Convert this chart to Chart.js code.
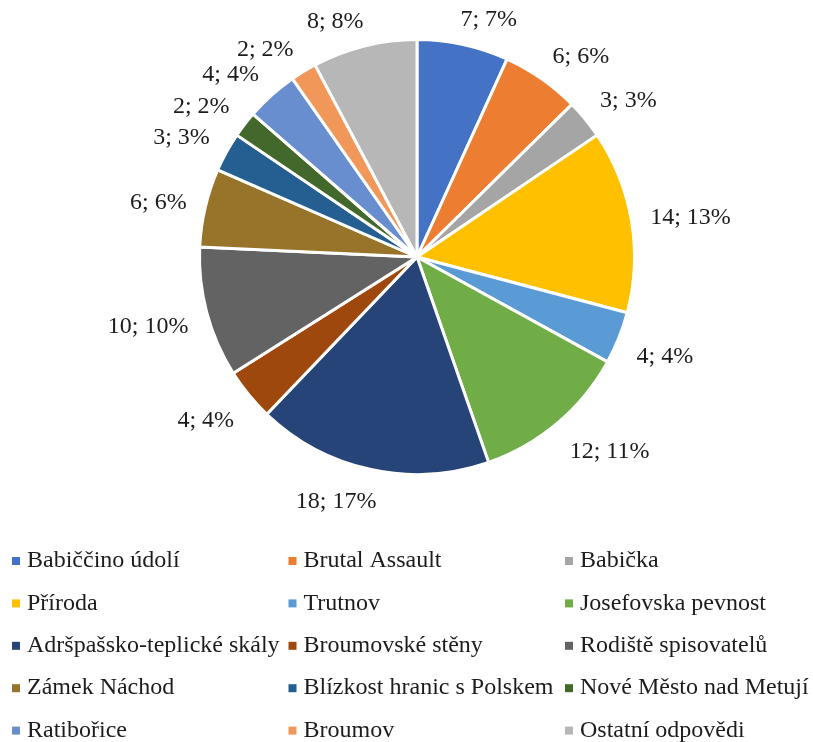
<!DOCTYPE html>
<html>
<head>
<meta charset="utf-8">
<script src="https://cdn.jsdelivr.net/npm/chart.js@4"></script>
<style>
  html, body { margin: 0; padding: 0; background: #ffffff; }
  #wrap { width: 813px; height: 742px; position: relative; }
</style>
</head>
<body>
<div id="wrap"><canvas id="chart" width="813" height="742"></canvas></div>
<script>
// Reasons given for visiting the region (answer counts and their shares)
const categories = [
  'Babiččino údolí', 'Brutal Assault', 'Babička',
  'Příroda', 'Trutnov', 'Josefovska pevnost',
  'Adršpašsko-teplické skály', 'Broumovské stěny', 'Rodiště spisovatelů',
  'Zámek Náchod', 'Blízkost hranic s Polskem', 'Nové Město nad Metují',
  'Ratibořice', 'Broumov', 'Ostatní odpovědi'
];
const counts = [7, 6, 3, 14, 4, 12, 18, 4, 10, 6, 3, 2, 4, 2, 8];
const shares = ['7%', '6%', '3%', '13%', '4%', '11%', '17%', '4%', '10%', '6%', '3%', '2%', '4%', '2%', '8%'];
const colors = [
  '#4472C4', '#ED7D31', '#A5A5A5',
  '#FFC000', '#5B9BD5', '#70AD47',
  '#264478', '#9E480E', '#636363',
  '#98742A', '#255E91', '#43682B',
  '#698ED0', '#F1975A', '#B7B7B7'
];

const SERIF = '"Liberation Serif", "Times New Roman", serif';
const TEXT_COLOR = '#1c1c1c';

// Value labels just outside each slice: "count; share".
// An anchor point sits a little beyond the rim on the slice's mid-angle;
// the label box is pushed away from it, fully sideways and partly up/down.
const outsideLabels = {
  id: 'outsideLabels',
  afterDatasetsDraw(chart) {
    const ctx = chart.ctx;
    const meta = chart.getDatasetMeta(0);
    ctx.save();
    ctx.font = '24px ' + SERIF;
    ctx.fillStyle = TEXT_COLOR;
    ctx.textAlign = 'center';
    ctx.textBaseline = 'middle';
    const gap = 19, hh = 10, baselineShift = 4;
    meta.data.forEach((arc, i) => {
      const mid = (arc.startAngle + arc.endAngle) / 2;
      const ux = Math.cos(mid), uy = Math.sin(mid);
      const text = counts[i] + '; ' + shares[i];
      const hw = ctx.measureText(text).width / 2;
      const d = arc.outerRadius + gap;
      const fx = Math.min(1, 3.6 * Math.abs(ux)) * Math.sign(ux);
      const fy = Math.min(1, 2 * Math.abs(uy)) * Math.sign(uy);
      ctx.fillText(text, arc.x + ux * d + fx * hw, arc.y + uy * d + fy * hh + baselineShift);
    });
    ctx.restore();
  }
};

// Three-column legend under the pie
const gridLegend = {
  id: 'gridLegend',
  afterDraw(chart) {
    const ctx = chart.ctx;
    const cols = 3, x0 = 12, colW = 276.5, y0 = 561, rowH = 42.4, box = 8;
    ctx.save();
    ctx.font = '24px ' + SERIF;
    ctx.textBaseline = 'middle';
    ctx.textAlign = 'left';
    categories.forEach((name, i) => {
      const x = x0 + (i % cols) * colW;
      const y = y0 + Math.floor(i / cols) * rowH;
      ctx.fillStyle = colors[i];
      ctx.fillRect(x, y - box / 2, box, box);
      ctx.fillStyle = TEXT_COLOR;
      ctx.fillText(name, x + 15, y);
    });
    ctx.restore();
  }
};

new Chart(document.getElementById('chart'), {
  type: 'pie',
  data: {
    labels: categories,
    datasets: [{
      data: counts,
      backgroundColor: colors,
      borderColor: '#ffffff',
      borderWidth: 3
    }]
  },
  options: {
    responsive: false,
    animation: false,
    layout: { padding: { left: 198, right: 177, top: 38, bottom: 266 } },
    plugins: {
      legend: { display: false },
      tooltip: { enabled: false }
    }
  },
  plugins: [outsideLabels, gridLegend]
});
</script>
</body>
</html>
